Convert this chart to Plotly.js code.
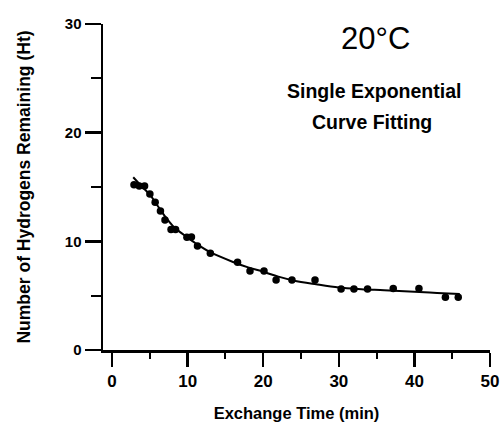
<!DOCTYPE html>
<html>
<head>
<meta charset="utf-8">
<script src="https://cdn.plot.ly/plotly-3.0.1.min.js"></script>
<style>html,body{margin:0;padding:0;background:#fff;}#chart{width:503px;height:424px;}</style>
</head>
<body>
<div id="chart"></div>
<script>
// Measured data points: exchange time (min) vs hydrogens remaining (Ht)
var pointTime = [2.9, 3.6, 4.3, 5.0, 5.7, 6.4, 7.0, 7.8, 8.4, 9.9, 10.5, 11.3, 13.0, 16.6, 18.25, 20.1, 21.7, 23.8, 26.85, 30.3, 32.0, 33.8, 37.2, 40.6, 44.1, 45.8];
var pointHt   = [15.2, 15.1, 15.1, 14.35, 13.6, 12.8, 11.96, 11.1, 11.1, 10.37, 10.4, 9.57, 8.9, 8.07, 7.27, 7.27, 6.44, 6.44, 6.44, 5.61, 5.61, 5.61, 5.67, 5.67, 4.85, 4.85];

// Fitted single-exponential curve
var curveTime = [2.8, 4, 5, 6, 7, 8, 9, 10, 11, 13, 16, 18, 20, 22, 24, 27, 30, 33, 36, 40, 43, 46];
var curveHt   = [15.9, 15.0, 14.3, 13.3, 12.3, 11.45, 10.85, 10.35, 9.85, 9.0, 8.1, 7.6, 7.2, 6.75, 6.4, 6.05, 5.75, 5.6, 5.5, 5.35, 5.25, 5.15];

var xTicks = [0, 10, 20, 30, 40, 50];
var yTicks = [0, 10, 20, 30];

var fontFam = 'Liberation Sans, Arial, Helvetica, sans-serif';

var traces = [
  {x: curveTime, y: curveHt, mode: 'lines', line: {color: '#000', width: 2, shape: 'spline'}, hoverinfo: 'skip', showlegend: false},
  {x: pointTime, y: pointHt, mode: 'markers', marker: {color: '#000', size: 7.5}, showlegend: false}
];

var layout = {
  width: 503, height: 424,
  margin: {l: 103, r: 13, t: 24, b: 74},
  paper_bgcolor: '#fff', plot_bgcolor: '#fff',
  font: {family: fontFam, color: '#000'},
  xaxis: {
    range: [-1.2, 50], tickvals: xTicks, ticktext: xTicks.map(String),
    showgrid: false, zeroline: false,
    showline: true, linecolor: '#000', linewidth: 2.5,
    ticks: 'outside', ticklen: 14, tickwidth: 2.5, tickcolor: '#000',
    minor: {dtick: 5, tick0: 0, ticks: 'outside', ticklen: 6, tickwidth: 2, tickcolor: '#000', showgrid: false},
    tickfont: {size: 17, weight: 700, family: fontFam},
    title: {text: 'Exchange Time (min)', font: {size: 16.5, weight: 700, family: fontFam}, standoff: 18},
    automargin: false
  },
  yaxis: {
    range: [0, 30], tickvals: yTicks, ticktext: yTicks.map(String),
    showgrid: false, zeroline: false,
    showline: true, linecolor: '#000', linewidth: 2.5,
    ticks: 'outside', ticklen: 16, tickwidth: 2.5, tickcolor: '#000',
    minor: {dtick: 5, tick0: 0, ticks: 'outside', ticklen: 10, tickwidth: 2, tickcolor: '#000', showgrid: false},
    tickfont: {size: 15, weight: 700, family: fontFam},
    title: {text: 'Number of Hydrogens Remaining (Ht)', font: {size: 17.5, weight: 700, family: fontFam}, standoff: 30},
    automargin: false
  },
  annotations: [
    {text: '20°C', x: 34.8, y: 28.7, xref: 'x', yref: 'y', showarrow: false, xanchor: 'center', yanchor: 'middle', font: {size: 31, family: fontFam, color: '#000'}},
    {text: 'Single Exponential', x: 34.7, y: 23.8, xref: 'x', yref: 'y', showarrow: false, xanchor: 'center', yanchor: 'middle', font: {size: 19.5, weight: 700, family: fontFam, color: '#000'}},
    {text: 'Curve Fitting', x: 34.4, y: 21.0, xref: 'x', yref: 'y', showarrow: false, xanchor: 'center', yanchor: 'middle', font: {size: 19.5, weight: 700, family: fontFam, color: '#000'}}
  ]
};

Plotly.newPlot('chart', traces, layout, {displayModeBar: false, staticPlot: true});
</script>
</body>
</html>
